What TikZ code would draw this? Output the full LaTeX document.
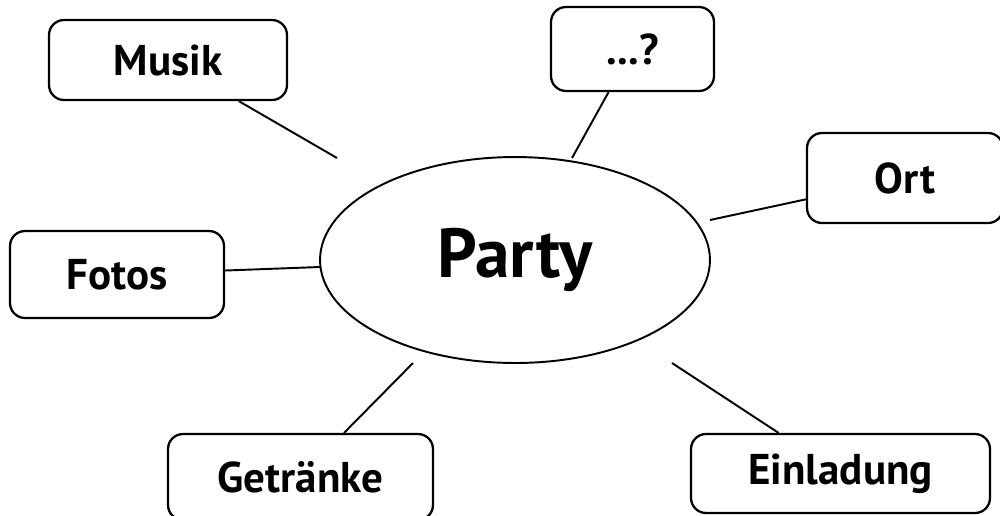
\documentclass[tikz,border=0pt]{standalone}
\usepackage{fontspec}
\setmainfont{PT Sans}
\usetikzlibrary{shapes.geometric}

\begin{document}
\begin{tikzpicture}[x=0.02cm, y=-0.02cm, line width=1.1pt,
	wort/.style={rectangle, rounded corners=0.3cm, draw, line width=1.3pt, inner sep=0pt, font=\bfseries\fontsize{24.5}{30}\selectfont},
	mitte/.style={ellipse, draw, minimum width=7.8cm, minimum height=4.12cm, inner sep=0pt, font=\bfseries\fontsize{39.5}{48}\selectfont}]
	\useasboundingbox (0,0) rectangle (1000,515);
	\node[mitte] (party) at (515,260)                                        {Party};
	\node[wort, minimum width=4.76cm, minimum height=1.6cm]  (musik)     at (168,60)    {Musik};
	\node[wort, minimum width=3.26cm, minimum height=1.68cm] (frage)     at (632.5,49)  {...?};
	\node[wort, minimum width=3.92cm, minimum height=1.8cm]  (ort)       at (905,178)   {Ort};
	\node[wort, minimum width=4.28cm, minimum height=1.74cm] (fotos)     at (117,274.5) {Fotos};
	\node[wort, minimum width=5.3cm, minimum height=1.72cm]  (getraenke) at (300.5,477) {Getränke};
	\node[wort, minimum width=5.98cm, minimum height=1.58cm] (einladung) at (840.5,473.5) {Einladung};

	\coordinate (musikEnde)     at (337,158);
	\coordinate (frageEnde)     at (572,158);
	\coordinate (ortEnde)       at (710,220);
	\coordinate (fotosEnde)     at (320,267);
	\coordinate (getraenkeEnde) at (413,363);
	\coordinate (einladungEnde) at (672,363);

	\path 	(musik) edge (musikEnde)
	(frage) edge (frageEnde)
	(ort) edge (ortEnde)
	(fotos) edge (fotosEnde)
	(getraenke) edge (getraenkeEnde)
	(einladung) edge (einladungEnde);
\end{tikzpicture}
\end{document}
